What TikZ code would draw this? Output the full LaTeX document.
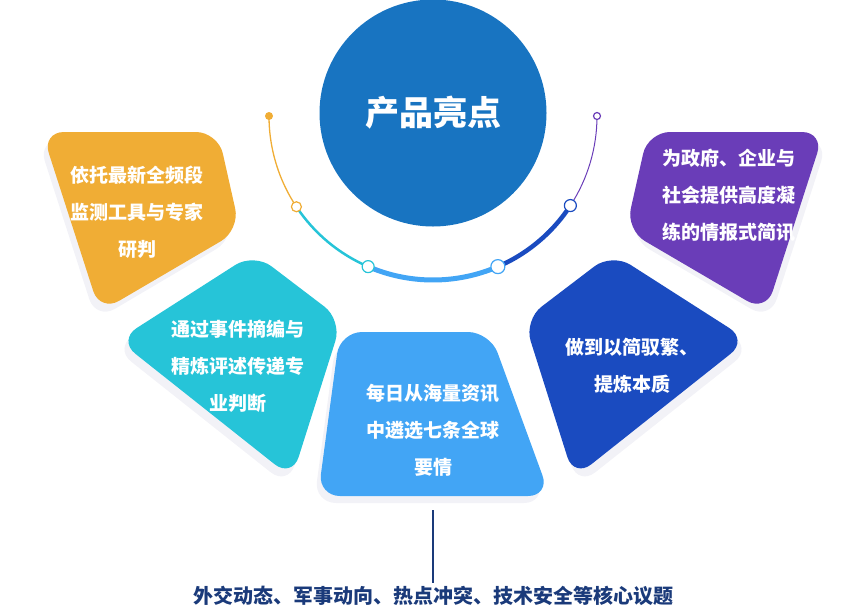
\documentclass[tikz,border=0pt]{standalone}
\usepackage{fontspec}
\setmainfont{Noto Sans CJK SC}
\usetikzlibrary{positioning}

\definecolor{cOrange}{HTML}{F0AD35}
\definecolor{cTeal}{HTML}{26C4D8}
\definecolor{cSky}{HTML}{42A5F5}
\definecolor{cNavy}{HTML}{1A4BC0}
\definecolor{cPurple}{HTML}{6A3DB8}
\definecolor{cHub}{HTML}{1874C1}
\definecolor{cText}{HTML}{1A3A7A}

\tikzset{
	petal/.style={rounded corners=22pt},
	shade/.style={rounded corners=22pt, fill=black!60!blue, opacity=0.05},
	petaltext/.style={text=white, align=center, font=\bfseries\fontsize{19}{37}\selectfont},
	dot/.style={fill=white, draw=#1, line width=1.2pt}
}

\begin{document}
\begin{tikzpicture}[x=1pt, y=-1pt]
	\useasboundingbox (0,0) rectangle (866,614);

	% shadows
	\fill [shade] (38,140) -- (213,140) -- (235,238) -- (96,320) -- cycle;
	\fill [shade] (114,348) -- (250,261) -- (338,328) -- (288,486) -- cycle;
	\fill [shade] (314,503) -- (336,340) -- (486,340) -- (546,503) -- cycle;
	\fill [shade] (528,328) -- (616,261) -- (752,348) -- (578,486) -- cycle;
	\fill [shade] (653,140) -- (828,140) -- (770,320) -- (630,238) -- cycle;

	% petals
	\fill [petal, cOrange] (42,132) -- (218,132) -- (240,230) -- (100,312) -- cycle;
	\fill [petal, cTeal] (118,340) -- (254,253) -- (342,320) -- (292,478) -- cycle;
	\fill [petal, cSky] (318,496) -- (340,332) -- (490,332) -- (550,496) -- cycle;
	\fill [petal, cNavy] (524,320) -- (612,253) -- (748,340) -- (574,478) -- cycle;
	\fill [petal, cPurple] (648,132) -- (824,132) -- (766,312) -- (626,230) -- cycle;

	% hub
	\fill [cHub] (433,113) circle (113.5);
	\node [text=white, font=\bfseries\fontsize{34}{40}\selectfont] (hub) at (433,113) {产品亮点};

	% arc
	\coordinate (c) at (433,116);
	\draw [cOrange, line width=1.3pt] (c) ++(180:164) arc (180:146.4:164);
	\draw [cTeal, line width=2.5pt] (c) ++(146.4:164) arc (146.4:113.3:164);
	\draw [cSky, line width=5pt] (c) ++(113.3:164) arc (113.3:66.7:164);
	\draw [cNavy, line width=4.5pt] (c) ++(66.7:164) arc (66.7:33.1:164);
	\draw [cPurple, line width=1pt] (c) ++(33.1:164) arc (33.1:0:164);
	\fill [cOrange] (c) ++(180:164) circle (4);
	\draw [dot=cOrange] (c) ++(146.4:164) circle (5);
	\draw [dot=cTeal] (c) ++(113.3:164) circle (6);
	\draw [dot=cSky] (c) ++(66.7:164) circle (7);
	\draw [dot=cNavy] (c) ++(33.1:164) circle (6);
	\draw [dot=cPurple] (c) ++(0:164) circle (3.5);

	% texts
	\node [petaltext] (p1) at (137,212) {依托最新全频段\\监测工具与专家\\研判};
	\node [petaltext] (p2) at (238,366) {通过事件摘编与\\精炼评述传递专\\业判断};
	\node [petaltext] (p3) at (433,430) {每日从海量资讯\\中遴选七条全球\\要情};
	\node [petaltext] (p4) at (632,366) {做到以简驭繁、\\提炼本质};
	\node [petaltext] (p5) at (729,195) {为政府、企业与\\社会提供高度凝\\练的情报式简讯};

	% bottom
	\node [text=cText, font=\bfseries\fontsize{20}{24}\selectfont] (topics) at (433,596) {外交动态、军事动向、热点冲突、技术安全等核心议题};
	\coordinate (stem) at (433,510);
	\draw [cText, line width=1.3pt] (stem) -- (topics.north);
\end{tikzpicture}
\end{document}
